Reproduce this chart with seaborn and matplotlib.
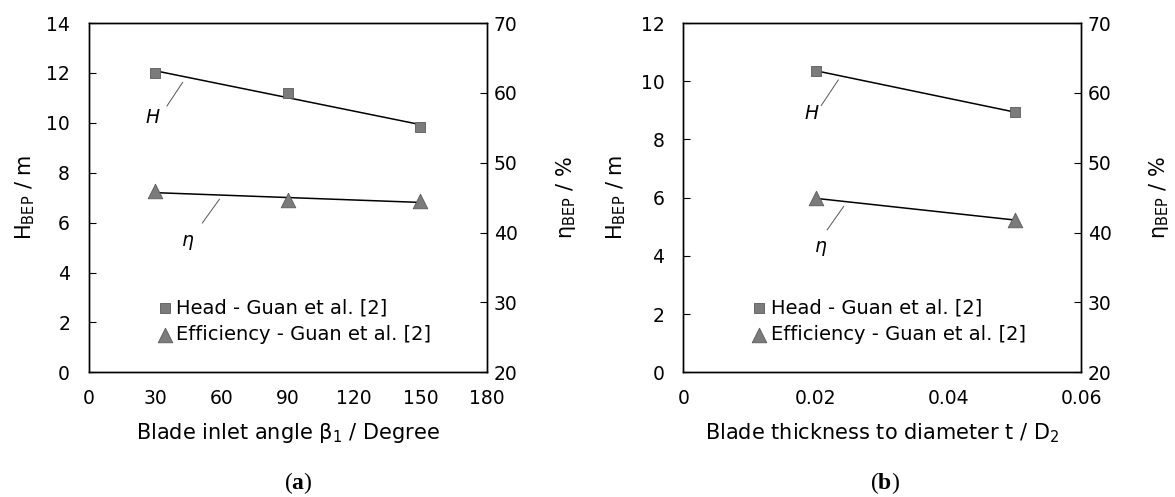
import matplotlib
matplotlib.use("Agg")
import matplotlib.pyplot as plt
import seaborn as sns
import pandas as pd

# panel (a): blade inlet angle
angle = [30, 90, 150]
head_a = [12.0, 11.18, 9.84]
eff_a = [45.9, 44.65, 44.5]

# panel (b): blade thickness ratio
thick = [0.02, 0.05]
head_b = [10.36, 8.94]
eff_b = [44.9, 41.8]

sns.set_theme(style="white")
plt.rcParams["font.family"] = ["DejaVu Sans"]
plt.rcParams["text.color"] = "black"
plt.rcParams["axes.labelcolor"] = "black"
plt.rcParams["mathtext.fontset"] = "custom"
plt.rcParams["mathtext.rm"] = "DejaVu Sans"
plt.rcParams["mathtext.it"] = "DejaVu Sans:italic"
plt.rcParams["mathtext.bf"] = "Liberation Serif:bold"

MARK = "#7b7b7b"
EDGE = "#5a5a5a"
TICK_FS = 13.5
LAB_FS = 15
LEG_FS = 14

fig = plt.figure(figsize=(11.75, 4.97), dpi=100)


def style_axes(ax, pad_y):
    for s in ax.spines.values():
        s.set_color("black")
        s.set_linewidth(1.0)
    ax.tick_params(direction="in", length=5, width=0.8, labelsize=TICK_FS,
                   colors="black")
    ax.tick_params(axis="x", pad=12)
    ax.tick_params(axis="y", pad=pad_y)


def panel(rect, x, head, eff, xlim, xticks, xfmt, hmax, hticks, xlabel,
          h_ann, e_ann, ylab_x, y2lab_x):
    ax = fig.add_axes(rect)
    ax2 = ax.twinx()
    df = pd.DataFrame({"x": x, "head": head, "eff": eff})

    sns.regplot(data=df, x="x", y="head", ax=ax, scatter=False, ci=None,
                color="black", line_kws={"lw": 1.1})
    sns.scatterplot(data=df, x="x", y="head", ax=ax, marker="s", s=60,
                    color=MARK, edgecolor=EDGE, linewidth=0.6, zorder=3,
                    label="Head - Guan et al. [2]", legend=False)
    sns.regplot(data=df, x="x", y="eff", ax=ax2, scatter=False, ci=None,
                color="black", line_kws={"lw": 1.1})
    sns.scatterplot(data=df, x="x", y="eff", ax=ax2, marker="^", s=110,
                    color=MARK, edgecolor=EDGE, linewidth=0.6, zorder=3,
                    label="Efficiency - Guan et al. [2]", legend=False)

    ax.set_xlim(*xlim)
    ax.set_xticks(xticks)
    ax.set_xticklabels([xfmt(v) for v in xticks])
    ax.set_ylim(0, hmax)
    ax.set_yticks(hticks)
    ax2.set_ylim(20, 70)
    ax2.set_yticks(range(20, 71, 10))

    ax.set_xlabel(xlabel, fontsize=LAB_FS)
    ax.xaxis.set_label_coords(0.5, -0.174)
    ax.xaxis.label.set_va("center")
    ax.set_ylabel(r"H$_{\mathregular{BEP}}$ / m", fontsize=LAB_FS)
    ax.yaxis.set_label_coords(ylab_x, 0.5)
    ax.yaxis.label.set_va("center")
    ax2.set_ylabel(r"η$_{\mathregular{BEP}}$ / %", fontsize=LAB_FS)
    ax2.yaxis.set_label_coords(y2lab_x, 0.5)
    ax2.yaxis.label.set_va("center")
    style_axes(ax, 13.5)
    style_axes(ax2, 5)
    ax.grid(False)
    ax2.grid(False)

    # leader-line labels for the trend lines
    for (p0, p1, pt), txt in ((h_ann, "H"), (e_ann, "η")):
        ax.plot([p0[0], p1[0]], [p0[1], p1[1]], color="#555555", lw=0.7)
        ax.text(pt[0], pt[1], txt, style="italic", fontsize=13.5,
                ha="center", va="center")

    h1, l1 = ax.get_legend_handles_labels()
    h2, l2 = ax2.get_legend_handles_labels()
    leg = ax2.legend([h1[-1], h2[-1]], [l1[-1], l2[-1]], loc="lower left",
                     bbox_to_anchor=(0.166, 0.08), frameon=False,
                     fontsize=LEG_FS, handletextpad=0.1, labelspacing=0.4,
                     handlelength=1.0, borderaxespad=0, borderpad=0)
    for t in leg.get_texts():
        t.set_color("black")
    return ax


panel([0.0756, 0.2509, 0.3387, 0.7028], angle, head_a, eff_a, (0, 180),
      [0, 30, 60, 90, 120, 150, 180], lambda v: f"{v:d}", 14,
      range(0, 15, 2), r"Blade inlet angle β$_{\mathregular{1}}$ / Degree",
      ((35.3, 10.67), (42.5, 11.63), (29.0, 10.2)),
      ((51.3, 5.98), (59.1, 6.94), (44.6, 5.3)), -0.160, 1.199)

panel([0.5815, 0.2509, 0.3385, 0.7028], thick, head_b, eff_b, (0, 0.06),
      [0, 0.02, 0.04, 0.06], lambda v: "0" if v == 0 else f"{v:.2f}", 12,
      range(0, 13, 2), r"Blade thickness to diameter t / D$_{\mathregular{2}}$",
      ((0.0208, 9.16), (0.0234, 10.05), (0.0193, 8.9)),
      ((0.0217, 4.89), (0.0242, 5.7), (0.0207, 4.32)), -0.169, 1.196)

for xc, letter in ((298 / 1175, "a"), (885 / 1175, "b")):
    fig.text(xc, 1 - 483 / 497, r"($\mathbf{" + letter + "}$)",
             family="Liberation Serif", fontsize=17, ha="center", va="center")

fig.savefig("out.png", dpi=100)
